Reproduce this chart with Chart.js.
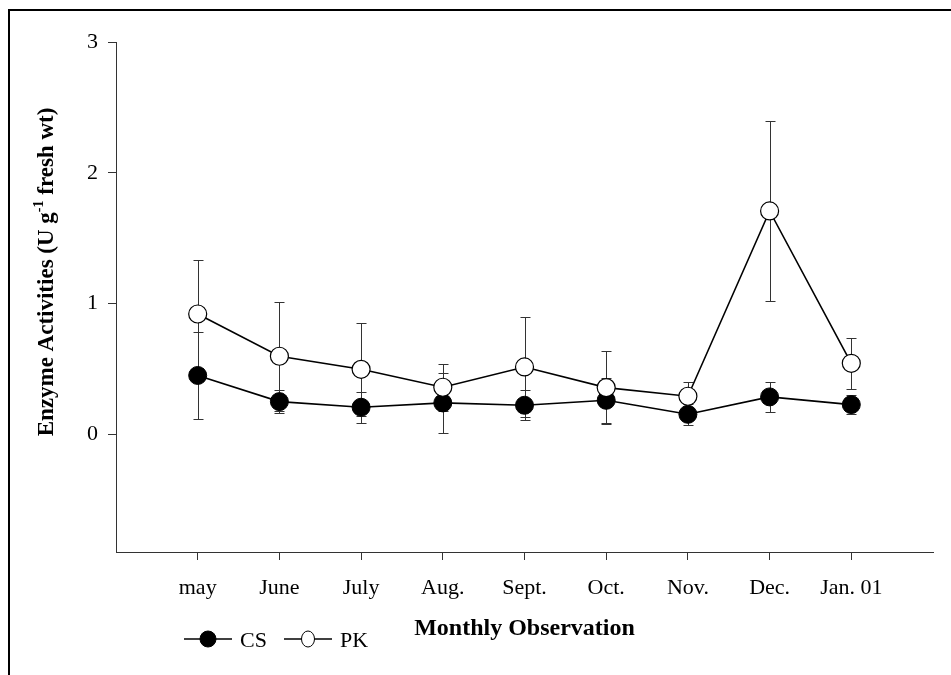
<!DOCTYPE html>
<html>
<head>
<meta charset="utf-8">
<script src="https://cdn.jsdelivr.net/npm/chart.js@4/dist/chart.umd.min.js"></script>
<style>
  html, body { margin: 0; padding: 0; background: #ffffff; }
  #wrap { width: 951px; height: 675px; position: relative; }
</style>
</head>
<body>
<div id="wrap"><canvas id="c" width="951" height="675"></canvas></div>
<script>
// ---- data ----
const months = ['may', 'June', 'July', 'Aug.', 'Sept.', 'Oct.', 'Nov.', 'Dec.', 'Jan. 01'];
const csValues = [0.45, 0.25, 0.207, 0.24, 0.222, 0.26, 0.153, 0.286, 0.227];
const csErrors = [0.333, 0.09, 0.117, 0.227, 0.115, 0.17, 0.08, 0.115, 0.07];
const pkValues = [0.92, 0.597, 0.497, 0.36, 0.515, 0.357, 0.291, 1.708, 0.543];
const pkErrors = [0.41, 0.418, 0.355, 0.181, 0.383, 0.28, 0.11, 0.69, 0.194];
const yTickValues = [0, 1, 2, 3];
const seriesNames = ['CS', 'PK'];
const xTitle = 'Monthly Observation';
const yTitleParts = ['Enzyme Activities (U g', '-1', ' fresh wt)'];

const SERIF = '"Liberation Serif", "Times New Roman", serif';

function toPoints(vals) { return vals.map((v, i) => ({ x: i, y: v })); }

const errorBarPlugin = {
  id: 'errorBars',
  beforeDatasetsDraw(chart) {
    const ctx = chart.ctx;
    const xs = chart.scales.x, ys = chart.scales.y;
    ctx.save();
    ctx.strokeStyle = '#333333';
    ctx.lineWidth = 1;
    chart.data.datasets.forEach(ds => {
      const errs = ds.errors;
      ds.data.forEach((p, i) => {
        const px = Math.round(xs.getPixelForValue(p.x)) + 0.5;
        const yHi = Math.round(ys.getPixelForValue(p.y + errs[i])) + 0.5;
        const yLo = Math.round(ys.getPixelForValue(p.y - errs[i])) + 0.5;
        ctx.beginPath();
        ctx.moveTo(px, yHi); ctx.lineTo(px, yLo);
        ctx.moveTo(px - 5, yHi); ctx.lineTo(px + 5, yHi);
        ctx.moveTo(px - 5, yLo); ctx.lineTo(px + 5, yLo);
        ctx.stroke();
      });
    });
    ctx.restore();
  }
};

const framePlugin = {
  id: 'frame',
  beforeDraw(chart) {
    const ctx = chart.ctx;
    ctx.save();
    ctx.fillStyle = '#ffffff';
    ctx.fillRect(0, 0, chart.width, chart.height);
    ctx.strokeStyle = '#000000';
    ctx.lineWidth = 2;
    ctx.strokeRect(9, 10, 1000, 1000);
    ctx.restore();
  }
};

const yTitlePlugin = {
  id: 'yTitle',
  afterDraw(chart) {
    const ctx = chart.ctx;
    const big = 'bold 23px ' + SERIF;
    const small = 'bold 14px ' + SERIF;
    ctx.save();
    ctx.font = big;
    const w0 = ctx.measureText(yTitleParts[0]).width;
    const w2 = ctx.measureText(yTitleParts[2]).width;
    ctx.font = small;
    const w1 = ctx.measureText(yTitleParts[1]).width;
    const total = w0 + w1 + w2;
    ctx.translate(47, 272);
    ctx.rotate(-Math.PI / 2);
    ctx.fillStyle = '#000';
    ctx.textBaseline = 'middle';
    ctx.textAlign = 'left';
    let x = -total / 2;
    ctx.font = big;
    ctx.fillText(yTitleParts[0], x, 0);
    x += w0;
    ctx.font = small;
    ctx.fillText(yTitleParts[1], x, -8);
    x += w1;
    ctx.font = big;
    ctx.fillText(yTitleParts[2], x, 0);
    ctx.restore();
  }
};

const legendPlugin = {
  id: 'lineLegend',
  afterDraw(chart) {
    const ctx = chart.ctx;
    ctx.save();
    ctx.font = '22px ' + SERIF;
    ctx.textBaseline = 'middle';
    let x = 184;
    const y = 639;
    chart.data.datasets.forEach(ds => {
      ctx.strokeStyle = '#000';
      ctx.lineWidth = 1.5;
      ctx.beginPath();
      ctx.moveTo(x, y); ctx.lineTo(x + 48, y);
      ctx.stroke();
      ctx.beginPath();
      ctx.ellipse(x + 24, y, ds.label === 'PK' ? 6.5 : 8, 8, 0, 0, Math.PI * 2);
      ctx.fillStyle = ds.pointBackgroundColor;
      ctx.fill();
      ctx.lineWidth = 1;
      ctx.stroke();
      ctx.fillStyle = '#000';
      ctx.fillText(ds.label, x + 56, y + 2);
      x += 100;
    });
    ctx.restore();
  }
};

new Chart(document.getElementById('c'), {
  type: 'line',
  data: {
    datasets: [
      {
        label: seriesNames[0],
        data: toPoints(csValues),
        errors: csErrors,
        borderColor: '#000',
        borderWidth: 1.6,
        pointRadius: 9,
        pointHoverRadius: 9,
        pointBackgroundColor: '#000',
        pointBorderColor: '#000',
        pointBorderWidth: 1,
        tension: 0,
        order: 2
      },
      {
        label: seriesNames[1],
        data: toPoints(pkValues),
        errors: pkErrors,
        borderColor: '#000',
        borderWidth: 1.6,
        pointRadius: 9,
        pointHoverRadius: 9,
        pointBackgroundColor: '#fff',
        pointBorderColor: '#000',
        pointBorderWidth: 1.2,
        tension: 0,
        order: 1
      }
    ]
  },
  options: {
    responsive: false,
    animation: false,
    events: [],
    layout: { padding: { left: 0, top: 42, right: 18, bottom: 0 } },
    plugins: { legend: { display: false }, tooltip: { enabled: false } },
    scales: {
      x: {
        type: 'linear',
        min: -1,
        max: 9,
        afterBuildTicks(scale) { scale.ticks = months.map((m, i) => ({ value: i })); },
        afterFit(scale) { scale.height = 123; },
        ticks: {
          autoSkip: false,
          maxRotation: 0,
          color: '#000',
          font: { family: SERIF, size: 22 },
          padding: 15,
          callback: (v) => months[v]
        },
        grid: { display: true, drawOnChartArea: false, drawTicks: true, tickLength: 8, color: '#333' },
        border: { display: true, color: '#333', width: 1 },
        title: {
          display: true,
          text: xTitle,
          color: '#000',
          font: { family: SERIF, size: 24, weight: 'bold' },
          padding: { top: 0, bottom: 32 }
        }
      },
      y: {
        type: 'linear',
        min: -0.9,
        max: 3,
        afterBuildTicks(scale) { scale.ticks = yTickValues.map(v => ({ value: v })); },
        afterFit(scale) { scale.width = 116; },
        ticks: {
          color: '#000',
          font: { family: SERIF, size: 22 },
          padding: 10,
          callback: (v) => String(v)
        },
        grid: { display: true, drawOnChartArea: false, drawTicks: true, tickLength: 8, color: '#333' },
        border: { display: true, color: '#333', width: 1 },
        title: { display: false }
      }
    }
  },
  plugins: [framePlugin, errorBarPlugin, yTitlePlugin, legendPlugin]
});
</script>
</body>
</html>
